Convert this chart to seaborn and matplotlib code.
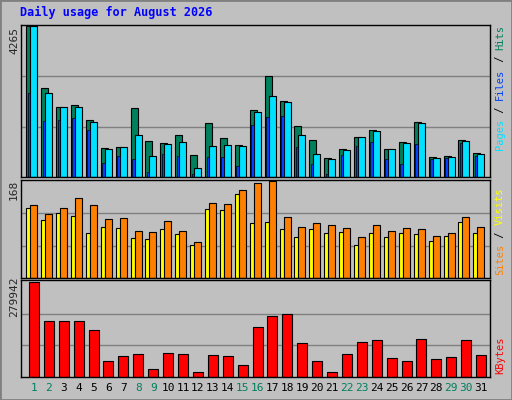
import matplotlib
matplotlib.use("Agg")
import matplotlib.pyplot as plt
import seaborn as sns
import numpy as np
import pandas as pd

days = list(range(1, 32))
hits = [4265,2501,1968,2036,1599,814,843,1948,1018,960,1192,611,1512,1105,901,1890,
        2850,2152,1425,1047,523,785,1134,1338,785,989,1541,553,582,1047,669]
files = [4265,2355,1968,1968,1541,785,843,1192,582,931,989,262,872,901,872,1832,
         2297,2123,1192,640,494,756,1134,1309,785,960,1512,523,553,1018,640]
pages = [2355,1570,1599,1657,1338,407,582,494,145,640,582,87,553,553,320,1454,
         1687,1715,843,378,87,611,872,989,494,378,931,494,523,960,582]
visits = [126,111,122,139,126,102,104,82,80,98,82,62,130,128,153,164,
          168,106,89,95,91,86,71,91,82,86,84,73,78,106,89]
sites = [122,100,113,108,78,89,86,69,67,84,76,58,120,117,146,95,
         97,84,71,84,78,80,58,78,71,78,76,64,73,97,78]
kbytes = [279942,163470,163470,163470,139000,47000,62300,68400,22500,71500,68400,13300,
          65400,62300,34700,148150,178800,184900,99100,47000,13300,68400,102200,108300,
          56200,47000,111400,53100,59300,108300,65400]
weekend = [1,2,8,9,15,16,22,23,29,30]

sns.set_style("white")
plt.rcParams['font.family'] = ['DejaVu Sans Mono']

W, H = 512, 400
fig = plt.figure(figsize=(W/100, H/100), dpi=100, facecolor="#C0C0C0")
fig.patches.append(plt.Rectangle((0, 0), 1, 1, transform=fig.transFigure, fill=False,
                                 edgecolor="#808080", lw=2))

def mkax(x0, y0, x1, y1):
    ax = fig.add_axes([x0/W, 1-y1/H, (x1-x0)/W, (y1-y0)/H])
    ax.set_facecolor("#C0C0C0")
    for s in ax.spines.values():
        s.set_color("black"); s.set_linewidth(1)
    ax.set_xlim(0.13, 31.6)
    ax.set_xticks([]); ax.set_yticks([])
    return ax

d = np.array(days)
edge = dict(edgecolor="black", linewidth=0.8, align="edge")

ax1 = mkax(21, 25, 490, 177)
m1 = max(hits)
for f in (1/3, 2/3):
    ax1.axhline(m1*f, color="#808080", lw=1, zorder=0)
ax1.bar(d-0.52, hits, width=0.47, color="#00805C", **edge)
ax1.bar(d-0.25, files, width=0.47, color="#00E0FF", **edge)
ax1.bar(d-0.42, pages, width=0.17, color="#0040FF", edgecolor="black", linewidth=0.5, align="edge")
ax1.set_ylim(0, m1*1.005)

ax2 = mkax(21, 180, 490, 278)
m2 = max(visits)
for f in (1/3, 2/3):
    ax2.axhline(m2*f, color="#808080", lw=1, zorder=0)
ax2.bar(d-0.52, sites, width=0.3, color="#FFFF00", **edge)
ax2.bar(d-0.25, visits, width=0.47, color="#FF8000", **edge)
ax2.set_ylim(0, m2*1.01)

ax3 = mkax(21, 280, 490, 377)
m3 = max(kbytes)
for f in (1/3, 2/3):
    ax3.axhline(m3*f, color="#808080", lw=1, zorder=0)
df = pd.DataFrame({"day": d, "kb": kbytes})
sns.barplot(data=df, x="day", y="kb", native_scale=True, width=0.67, color="#FF0000",
            saturation=1, edgecolor="black", linewidth=0.8, ax=ax3)
ax3.set_xlim(0.13, 31.6); ax3.set_ylim(0, m3*1.02)
ax3.set_xlabel(""); ax3.set_ylabel("")
ax3.set_xticks(days)
ax3.set_xticklabels([str(x) for x in days], fontsize=8)
for lbl, x in zip(ax3.get_xticklabels(), days):
    lbl.set_color("#00805C" if x in weekend else "black")
ax3.tick_params(axis="x", length=0, pad=4)
ax3.set_yticks([])

fig.text(20/W, 1-12/H, "Daily usage for August 2026", color="#0000FF", fontsize=8.5,
         fontweight="bold", va="center", ha="left")
fig.text(14/W, 1-40/H, "4265", rotation=90, fontsize=8, ha="center", va="center")
fig.text(14/W, 1-190/H, "168", rotation=90, fontsize=8, ha="center", va="center")
fig.text(14/W, 1-297/H, "279942", rotation=90, fontsize=8, ha="center", va="center")

FS = 7.5
STEP = 0.602 * FS * 100 / 72

def rlabel(parts, ybottom):
    y = ybottom
    for txt, col in parts:
        fig.text(500/W, 1-y/H, txt, rotation=90, rotation_mode="anchor", color=col,
                 fontsize=FS, ha="left", va="center")
        y -= STEP*len(txt)

rlabel([("Pages", "#00E0FF"), (" / ", "#000000"), ("Files", "#0040FF"),
        (" / ", "#000000"), ("Hits", "#00805C")], 150)
rlabel([("Sites", "#FF8000"), (" / ", "#000000"), ("Visits", "#FFFF00")], 275)
rlabel([("KBytes", "#FF0000")], 374)

fig.savefig("out.png", dpi=100, facecolor=fig.get_facecolor())
